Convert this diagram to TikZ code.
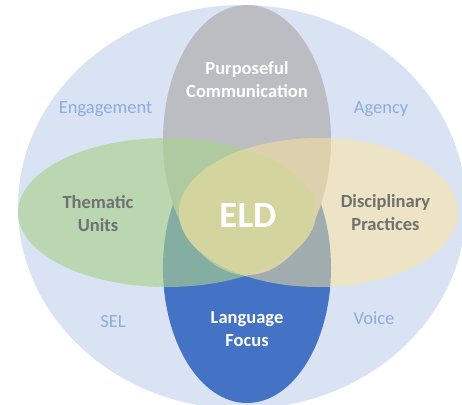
\documentclass[tikz,border=0pt]{standalone}
\usepackage{fontspec}
\setmainfont{Carlito}

\definecolor{ringfill}{HTML}{DAE3F3}
\definecolor{topfill}{HTML}{BCBDC3}
\definecolor{bottomfill}{HTML}{4472C4}
\definecolor{leftfill}{HTML}{A9D18E}
\definecolor{rightfill}{HTML}{FFE699}
\definecolor{corefill}{HTML}{D4D49E}
\definecolor{softlabel}{HTML}{8FAADC}
\definecolor{darklabel}{HTML}{707070}

\begin{document}
\begin{tikzpicture}[x=1pt,y=-1pt,
  title/.style={font=\bfseries\fontsize{18.5}{23}\selectfont, align=center,
    anchor=base, inner sep=0pt},
  corelabel/.style={font=\bfseries\fontsize{37}{40}\selectfont, anchor=base,
    inner sep=0pt, text=white},
  outer/.style={font=\fontsize{18.5}{23}\selectfont, anchor=base,
    inner sep=0pt, text=softlabel}]

  \useasboundingbox (0,0) rectangle (462,404);
  \fill[white] (0,0) rectangle (462,404);
  \clip (0,0) rectangle (462,404);

  % outer ring
  \fill[ringfill] (242,207) ellipse [x radius=224pt, y radius=202pt];

  % vertical pair
  \fill[bottomfill] (247,268) ellipse [x radius=84pt, y radius=135pt];
  \fill[topfill] (247,140) ellipse [x radius=84pt, y radius=135pt];

  % horizontal pair
  \fill[leftfill, fill opacity=0.64] (167,212.5) ellipse [x radius=149pt, y radius=74.5pt];
  \fill[rightfill, fill opacity=0.5] (318.5,212.5) ellipse [x radius=139.5pt, y radius=74.5pt];

  % shared core
  \begin{scope}
    \clip (167,212.5) ellipse [x radius=149pt, y radius=74.5pt];
    \fill[corefill] (318.5,212.5) ellipse [x radius=139.5pt, y radius=74.5pt];
  \end{scope}

  % labels (base anchor sits on the last line)
  \node[title, text=white] (purpose) at (247,97) {Purposeful\\Communication};
  \node[title, text=darklabel] (thematic) at (98,231) {Thematic\\Units};
  \node[title, text=darklabel] (disciplinary) at (385.5,230.5) {Disciplinary\\Practices};
  \node[title, text=white] (language) at (247,346.5) {Language\\Focus};
  \node[corelabel] (eld) at (248,227) {ELD};

  \node[outer] (engagement) at (105.5,113) {Engagement};
  \node[outer] (agency) at (381,113) {Agency};
  \node[outer] (sel) at (113,327) {SEL};
  \node[outer] (voice) at (374,324) {Voice};
\end{tikzpicture}
\end{document}
